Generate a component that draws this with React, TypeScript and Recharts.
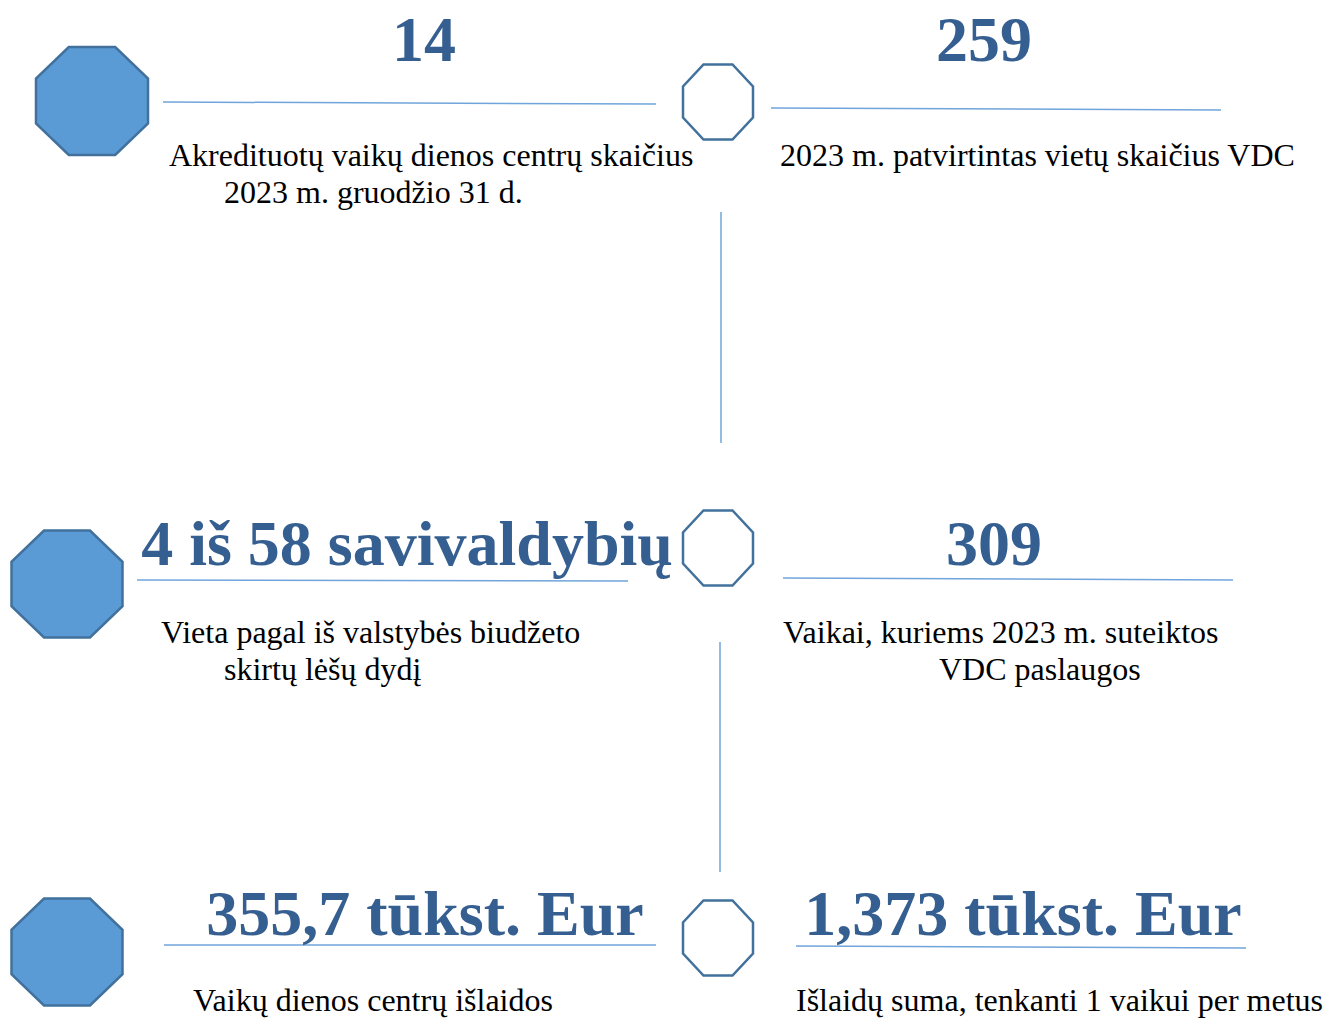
import React from 'react';
import { ScatterChart, Scatter, XAxis, YAxis, ReferenceLine } from 'recharts';

const W = 1327;
const H = 1019;

// headline figures (bold blue) and their captions
const statLabels = ['14', '259', '4 iš 58 savivaldybių', '309', '355,7 tūkst. Eur', '1,373 tūkst. Eur'];
const captionLines = [
  'Akredituotų vaikų dienos centrų skaičius',
  '2023 m. gruodžio 31 d.',
  '2023 m. patvirtintas vietų skaičius VDC',
  'Vieta pagal iš valstybės biudžeto',
  'skirtų lėšų dydį',
  'Vaikai, kuriems 2023 m. suteiktos',
  'VDC paslaugos',
  'Vaikų dienos centrų išlaidos',
  'Išlaidų suma, tenkanti 1 vaikui per metus',
];

// layout in page pixels (mapped through hidden 1:1 axes)
const statX = [424, 984, 407, 994, 425, 1023];
const statY = [61, 61, 565, 565, 935, 935];
const captionX = [169, 224, 780, 161, 224, 783, 939, 193, 796];
const captionY = [166, 203, 166, 643, 680, 643, 680, 1011, 1011];
const octX = [92, 718, 67, 718, 67, 718];
const octY = [101, 102, 584, 548, 952, 938];
const octW = [112, 70, 111, 70, 111, 70];
const octH = [108, 75, 107, 75, 107, 75];
const octFilled = [true, false, true, false, true, false];
const hLines = [
  [163, 102, 656, 104],
  [771, 108, 1221, 110],
  [137, 580, 628, 581],
  [783, 578, 1233, 580],
  [164, 945, 656, 945],
  [796, 946, 1246, 948],
];
const vLines = [
  [721, 212, 721, 443],
  [720, 642, 720, 872],
];

const octData = octX.map((x, i) => ({ x, y: octY[i], w: octW[i], h: octH[i], filled: octFilled[i] }));
const statData = statX.map((x, i) => ({ x, y: statY[i], label: statLabels[i] }));
const captionData = captionX.map((x, i) => ({ x, y: captionY[i], label: captionLines[i] }));

const Octagon = (props: any) => {
  const { cx, cy, payload } = props;
  const w = payload.w;
  const h = payload.h;
  const a = 1 / (2 + Math.SQRT2);
  const x0 = cx - w / 2;
  const x1 = cx + w / 2;
  const y0 = cy - h / 2;
  const y1 = cy + h / 2;
  const pts = [
    [x0 + a * w, y0], [x1 - a * w, y0], [x1, y0 + a * h], [x1, y1 - a * h],
    [x1 - a * w, y1], [x0 + a * w, y1], [x0, y1 - a * h], [x0, y0 + a * h],
  ].map((p) => p.join(',')).join(' ');
  return (
    <polygon
      points={pts}
      fill={payload.filled ? '#5B9BD5' : '#ffffff'}
      stroke="#41719C"
      strokeWidth={2.5}
    />
  );
};

const StatText = (props: any) => (
  <text x={props.cx} y={props.cy} textAnchor="middle" fontFamily="'Liberation Serif', 'Times New Roman', serif"
    fontWeight="bold" fontSize={64} fill="#365F91">
    {props.payload.label}
  </text>
);

const CaptionText = (props: any) => (
  <text x={props.cx} y={props.cy} textAnchor="start" fontFamily="'Liberation Serif', 'Times New Roman', serif"
    fontSize={32} fill="#000000">
    {props.payload.label}
  </text>
);

export default function App() {
  return (
    <div style={{ position: 'absolute', left: 0, top: 0, width: W, height: H, background: '#ffffff' }}>
      <ScatterChart width={W} height={H} margin={{ top: 0, right: 0, bottom: 0, left: 0 }}>
        <XAxis type="number" dataKey="x" domain={[0, W]} hide allowDataOverflow />
        <YAxis type="number" dataKey="y" domain={[0, H]} reversed hide allowDataOverflow />
        {hLines.concat(vLines).map((l, i) => (
          <ReferenceLine
            key={i}
            segment={[{ x: l[0], y: l[1] }, { x: l[2], y: l[3] }]}
            stroke="#6FA5DA"
            strokeWidth={1.5}
            ifOverflow="visible"
          />
        ))}
        <Scatter data={octData} shape={Octagon} isAnimationActive={false} />
        <Scatter data={statData} shape={StatText} isAnimationActive={false} />
        <Scatter data={captionData} shape={CaptionText} isAnimationActive={false} />
      </ScatterChart>
    </div>
  );
}
